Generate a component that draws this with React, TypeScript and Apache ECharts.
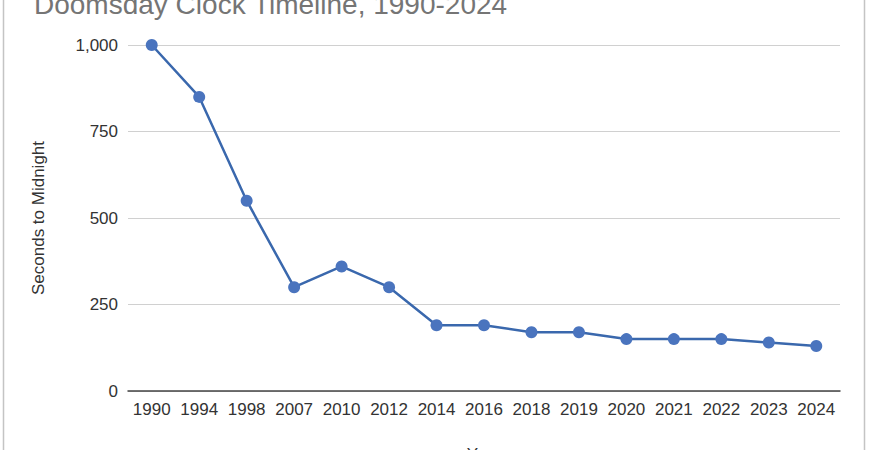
import React, { useEffect, useRef } from "react";
import * as echarts from "echarts";

const years = ["1990", "1994", "1998", "2007", "2010", "2012", "2014", "2016", "2018", "2019", "2020", "2021", "2022", "2023", "2024"];
const seconds = [1000, 850, 550, 300, 360, 300, 190, 190, 170, 170, 150, 150, 150, 140, 130];
const yTicks = [0, 250, 500, 750, 1000];

const FONT = "'Liberation Sans', Arial, sans-serif";

export default function App() {
  const ref = useRef<HTMLDivElement>(null);
  useEffect(() => {
    if (!ref.current) return;
    const chart = echarts.init(ref.current, null, { renderer: "svg", width: 870, height: 450 });
    chart.setOption({
      animation: false,
      backgroundColor: "#ffffff",
      title: {
        text: "Doomsday Clock Timeline, 1990-2024",
        left: 29,
        top: -15,
        textStyle: { fontFamily: FONT, fontSize: 28, fontWeight: "normal", color: "#757575" },
      },
      graphic: [
        { type: "line", shape: { x1: 3.5, y1: -10, x2: 3.5, y2: 460 }, style: { stroke: "#c4c4c4", lineWidth: 1.5 } },
        { type: "line", shape: { x1: 864.5, y1: -10, x2: 864.5, y2: 460 }, style: { stroke: "#c4c4c4", lineWidth: 1.5 } },
      ],
      grid: { left: 128, right: 30, top: 45, bottom: 59, containLabel: false, outerBoundsMode: "none" },
      xAxis: {
        type: "category",
        data: years,
        boundaryGap: true,
        name: "Year",
        nameLocation: "middle",
        nameGap: 55,
        nameTextStyle: { fontFamily: FONT, fontSize: 17, color: "#333" },
        axisTick: { show: false },
        axisLine: { show: true, lineStyle: { color: "#444", width: 1.5 } },
        axisLabel: { fontFamily: FONT, fontSize: 17, color: "#333", margin: 10, interval: 0 },
      },
      yAxis: {
        type: "value",
        min: yTicks[0],
        max: yTicks[yTicks.length - 1],
        interval: 250,
        name: "Seconds to Midnight",
        nameLocation: "middle",
        nameGap: 81,
        nameTextStyle: { fontFamily: FONT, fontSize: 17, color: "#333" },
        axisLine: { show: false },
        axisTick: { show: false },
        axisLabel: {
          fontFamily: FONT,
          fontSize: 17,
          color: "#333",
          margin: 10,
          formatter: (v: number) => v.toLocaleString("en-US"),
        },
        splitLine: { lineStyle: { color: "#d0d0d0", width: 1 } },
      },
      series: [
        {
          type: "line",
          data: seconds,
          symbol: "circle",
          symbolSize: 12,
          lineStyle: { color: "#3a68ad", width: 2.5 },
          itemStyle: { color: "#4a74be" },
        },
      ],
    });
    return () => chart.dispose();
  }, []);
  return (
    <div
      ref={ref}
      style={{ position: "fixed", left: 0, top: 0, width: 870, height: 450, background: "#fff" }}
    />
  );
}
